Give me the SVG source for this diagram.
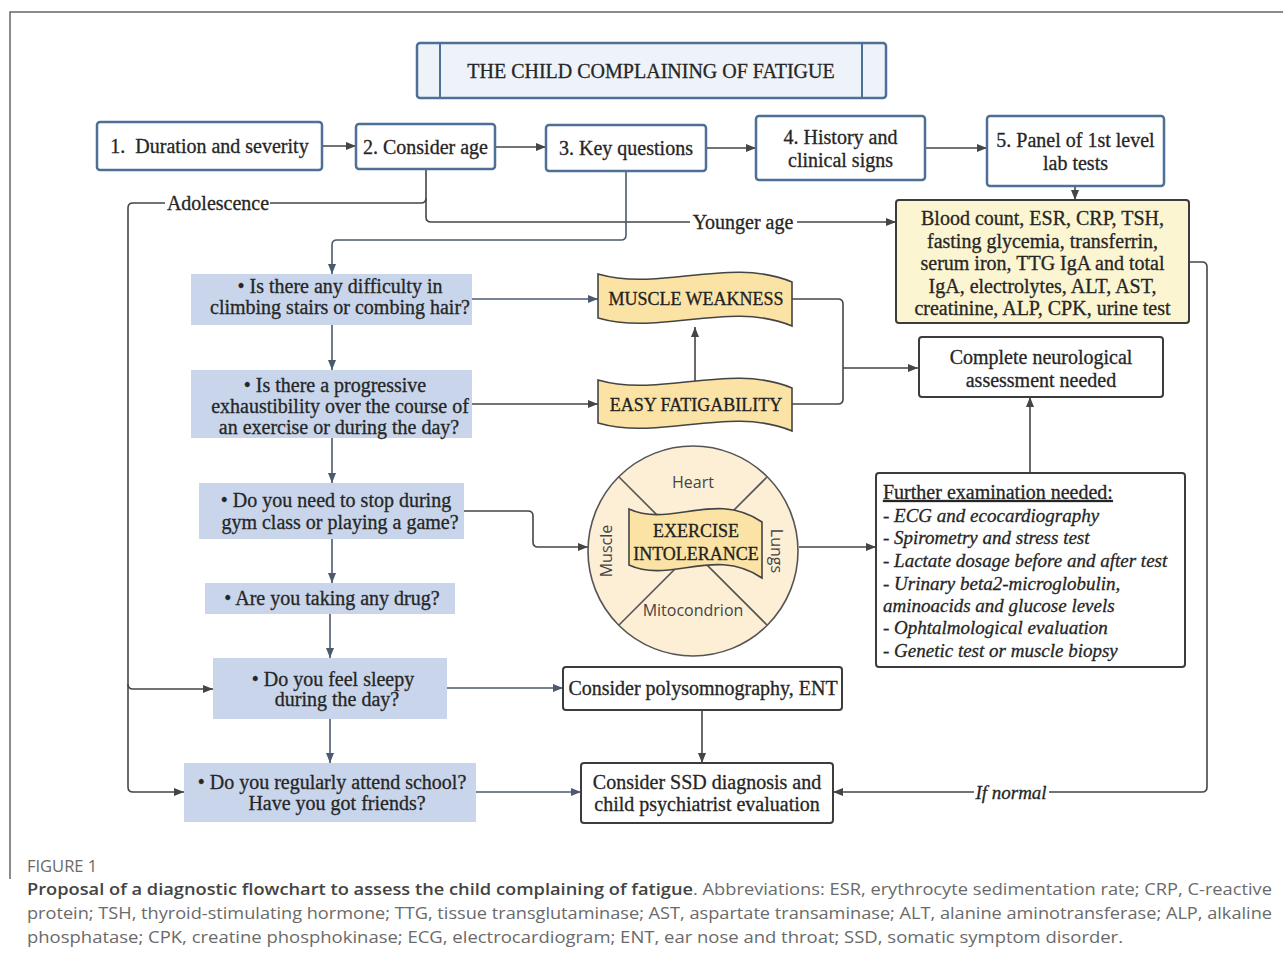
<svg xmlns="http://www.w3.org/2000/svg" width="1283" height="956" viewBox="0 0 1283 956">
<style>
.t{font-family:"Liberation Serif","Times New Roman",serif;font-size:20px;fill:#262626;stroke:#262626;stroke-width:0.3;text-anchor:middle}
.ti{font-family:"Liberation Serif","Times New Roman",serif;font-size:19px;fill:#262626;stroke:#262626;stroke-width:0.3;font-style:italic}
.ts{text-anchor:start}
.bn{font-family:"Liberation Serif","Times New Roman",serif;font-size:18px;fill:#222;stroke:#222;stroke-width:0.3;text-anchor:middle}
.sans{font-family:"Open Sans","Noto Sans",sans-serif;font-size:16px;fill:#444;text-anchor:middle}
.bbox{fill:#fff;stroke:#4e6f96;stroke-width:2.5}
.dbox{fill:#fff;stroke:#3c3c3c;stroke-width:2}
.q{fill:#c8d5ea}
.ban{fill:#fbe3a6;stroke:#444;stroke-width:1.6}
.c{fill:none;stroke:#454545;stroke-width:1.6}
.cb{fill:none;stroke:#4b5a6e;stroke-width:1.6}
.cap{font-family:"Open Sans","Noto Sans",sans-serif;font-size:16.5px;fill:#6a6a6a}
</style>
<defs>
<marker id="a" viewBox="0 0 10 8" refX="10" refY="4" markerWidth="10" markerHeight="8" markerUnits="userSpaceOnUse" orient="auto"><path d="M0,0 L10,4 L0,8 z" fill="#454545"/></marker>
<marker id="ab" viewBox="0 0 10 8" refX="10" refY="4" markerWidth="10" markerHeight="8" markerUnits="userSpaceOnUse" orient="auto"><path d="M0,0 L10,4 L0,8 z" fill="#4b5a6e"/></marker>
</defs>
<rect width="1283" height="956" fill="#fff"/>
<path d="M10,879 V12 H1283" fill="none" stroke="#666" stroke-width="1.5"/>

<g id="connectors">
<path class="c" d="M322,146 H356" marker-end="url(#a)"/>
<path class="c" d="M495,147 H546" marker-end="url(#a)"/>
<path class="c" d="M706,148 H756" marker-end="url(#a)"/>
<path class="c" d="M925,148 H987" marker-end="url(#a)"/>
<path class="c" d="M1075,186 V200" marker-end="url(#a)"/>
<path class="c" d="M426,169 V217 Q426,222 431,222 H690"/>
<path class="c" d="M797,222 H896" marker-end="url(#a)"/>
<path class="c" d="M426,198 Q426,203 421,203 H270"/>
<path class="c" d="M165,203 H133 Q128,203 128,208 V787 Q128,792 133,792 H184" marker-end="url(#a)"/>
<path class="c" d="M128,684 Q128,689 133,689 H213" marker-end="url(#a)"/>
<path class="cb" d="M626,171 V235 Q626,240 621,240 H337 Q332,240 332,245 V274" marker-end="url(#ab)"/>
<path class="cb" d="M332,325 V370" marker-end="url(#ab)"/>
<path class="cb" d="M332,438 V483" marker-end="url(#ab)"/>
<path class="cb" d="M332,539 V583" marker-end="url(#ab)"/>
<path class="cb" d="M330,614 V658" marker-end="url(#ab)"/>
<path class="cb" d="M330,719 V763" marker-end="url(#ab)"/>
<path class="cb" d="M472,299 H598" marker-end="url(#ab)"/>
<path class="c" d="M472,404 H598" marker-end="url(#a)"/>
<path class="c" d="M695,384 V327" marker-end="url(#a)"/>
<path class="c" d="M792,299 H838 Q843,299 843,304 V399 Q843,404 838,404 H792"/>
<path class="c" d="M843,368 H918" marker-end="url(#a)"/>
<path class="c" d="M464,511 H528 Q533,511 533,516 V542 Q533,547 538,547 H588" marker-end="url(#a)"/>
<path class="c" d="M799,547 H876" marker-end="url(#a)"/>
<path class="c" d="M1030,473 V397" marker-end="url(#a)"/>
<path class="cb" d="M447,688 H563" marker-end="url(#ab)"/>
<path class="c" d="M702,710 V763" marker-end="url(#a)"/>
<path class="cb" d="M476,792 H581" marker-end="url(#ab)"/>
<path class="c" d="M1189,262 H1202 Q1207,262 1207,267 V787 Q1207,792 1202,792 H1049"/>
<path class="c" d="M974,792 H833" marker-end="url(#a)"/>
<text class="t" x="218" y="210">Adolescence</text>
<text class="t" x="743" y="229">Younger age</text>
<text class="ti" x="1011" y="799" text-anchor="middle">If normal</text>
</g>

<g id="title">
<rect x="417" y="43" width="469" height="55" rx="3" fill="#eef3f9" stroke="#4e6f96" stroke-width="2.5"/>
<path d="M440,43 V98 M862,43 V98" stroke="#4e6f96" stroke-width="2"/>
<text class="t" x="651" y="78">THE CHILD COMPLAINING OF FATIGUE</text>
</g>
<g id="n1"><rect class="bbox" x="97" y="122" width="225" height="48" rx="3"/><text class="t" x="209.5" y="153" xml:space="preserve">1.  Duration and severity</text></g>
<g id="n2"><rect class="bbox" x="356" y="124" width="139" height="45" rx="3"/><text class="t" x="425.5" y="154">2. Consider age</text></g>
<g id="n3"><rect class="bbox" x="546" y="125" width="160" height="46" rx="3"/><text class="t" x="626" y="155">3. Key questions</text></g>
<g id="n4"><rect class="bbox" x="756" y="116" width="169" height="64" rx="3"/><text class="t" x="840.5" y="144">4. History and</text><text class="t" x="840.5" y="167">clinical signs</text></g>
<g id="n5"><rect class="bbox" x="987" y="116" width="177" height="70" rx="3"/><text class="t" x="1075.5" y="147">5. Panel of 1st level</text><text class="t" x="1075.5" y="170">lab tests</text></g>
<g id="labs"><rect x="896" y="200" width="293" height="123" rx="3" fill="#fcf5d2" stroke="#3c3c3c" stroke-width="2"/>
<text class="t" x="1042.5" y="225">Blood count, ESR, CRP, TSH,</text>
<text class="t" x="1042.5" y="248">fasting glycemia, transferrin,</text>
<text class="t" x="1042.5" y="270">serum iron, TTG IgA and total</text>
<text class="t" x="1042.5" y="293">IgA, electrolytes, ALT, AST,</text>
<text class="t" x="1042.5" y="315">creatinine, ALP, CPK, urine test</text></g>

<g id="q1"><rect class="q" x="191" y="274" width="281" height="51"/><text class="t" x="340" y="293">• Is there any difficulty in</text><text class="t" x="340" y="314">climbing stairs or combing hair?</text></g>
<g id="q2"><rect class="q" x="191" y="370" width="281" height="68"/><text class="t" x="335" y="392">• Is there a progressive</text><text class="t" x="340" y="413">exhaustibility over the course of</text><text class="t" x="339" y="434">an exercise or during the day?</text></g>
<g id="q3"><rect class="q" x="199" y="483" width="265" height="56"/><text class="t" x="336" y="507">• Do you need to stop during</text><text class="t" x="340" y="529">gym class or playing a game?</text></g>
<g id="q4"><rect class="q" x="205" y="583" width="250" height="31"/><text class="t" x="332" y="605">• Are you taking any drug?</text></g>
<g id="q5"><rect class="q" x="213" y="658" width="234" height="61"/><text class="t" x="333" y="686">• Do you feel sleepy</text><text class="t" x="337" y="706">during the day?</text></g>
<g id="q6"><rect class="q" x="184" y="763" width="292" height="59"/><text class="t" x="332" y="789">• Do you regularly attend school?</text><text class="t" x="337" y="810">Have you got friends?</text></g>

<g id="muscle-weakness"><path class="ban" d="M598,274 C660,292 730,256 792,282 V326 C730,300 660,336 598,318 Z"/><text class="bn" x="696" y="305">MUSCLE WEAKNESS</text></g>
<g id="easy-fatigability"><path class="ban" d="M598,380 C660,398 730,362 792,388 V431 C730,405 660,441 598,423 Z"/><text class="bn" x="696" y="411">EASY FATIGABILITY</text></g>
<g id="neuro"><rect class="dbox" x="919" y="337" width="244" height="60" rx="3"/><text class="t" x="1041" y="364">Complete neurological</text><text class="t" x="1041" y="387">assessment needed</text></g>

<g id="exercise">
<circle cx="693" cy="551" r="105" fill="#fcefd6" stroke="#555" stroke-width="1.6"/>
<path d="M619,477 L767,625 M767,477 L619,625" stroke="#555" stroke-width="1.6"/>
<path class="ban" d="M629,509 C670,528 715,490 762,522 V578 C715,546 670,584 629,565 Z"/>
<text class="bn" x="696" y="537" font-size="17.5">EXERCISE</text>
<text class="bn" x="696" y="560" font-size="17.5">INTOLERANCE</text>
<text class="sans" x="693" y="488">Heart</text>
<text class="sans" x="693" y="616">Mitocondrion</text>
<text class="sans" x="606" y="557" transform="rotate(-90 606 551)">Muscle</text>
<text class="sans" x="777" y="557" transform="rotate(90 777 551)">Lungs</text>
</g>

<g id="further"><rect class="dbox" x="876" y="473" width="309" height="194" rx="3"/>
<text class="t ts" x="883" y="499" font-size="19" text-decoration="underline">Further examination needed:</text>
<text class="ti" x="883" y="522">- ECG and ecocardiography</text>
<text class="ti" x="883" y="544">- Spirometry and stress test</text>
<text class="ti" x="883" y="567">- Lactate dosage before and after test</text>
<text class="ti" x="883" y="590">- Urinary beta2-microglobulin,</text>
<text class="ti" x="883" y="612">aminoacids and glucose levels</text>
<text class="ti" x="883" y="634">- Ophtalmological evaluation</text>
<text class="ti" x="883" y="657">- Genetic test or muscle biopsy</text></g>

<g id="poly"><rect class="dbox" x="563" y="667" width="279" height="43" rx="3"/><text class="t" x="703" y="695">Consider polysomnography, ENT</text></g>
<g id="ssd"><rect class="dbox" x="581" y="763" width="252" height="60" rx="3"/><text class="t" x="707" y="789">Consider SSD diagnosis and</text><text class="t" x="707" y="811">child psychiatrist evaluation</text></g>

<g id="caption">
<text class="cap" x="27" y="872" font-size="13">FIGURE 1</text>
<text class="cap" x="27" y="895" textLength="1245" lengthAdjust="spacingAndGlyphs"><tspan fill="#444" font-weight="600">Proposal of a diagnostic flowchart to assess the child complaining of fatigue</tspan>. Abbreviations: ESR, erythrocyte sedimentation rate; CRP, C-reactive</text>
<text class="cap" x="27" y="919" textLength="1245" lengthAdjust="spacingAndGlyphs">protein; TSH, thyroid-stimulating hormone; TTG, tissue transglutaminase; AST, aspartate transaminase; ALT, alanine aminotransferase; ALP, alkaline</text>
<text class="cap" x="27" y="943" textLength="1096" lengthAdjust="spacingAndGlyphs">phosphatase; CPK, creatine phosphokinase; ECG, electrocardiogram; ENT, ear nose and throat; SSD, somatic symptom disorder.</text>
</g>
</svg>
